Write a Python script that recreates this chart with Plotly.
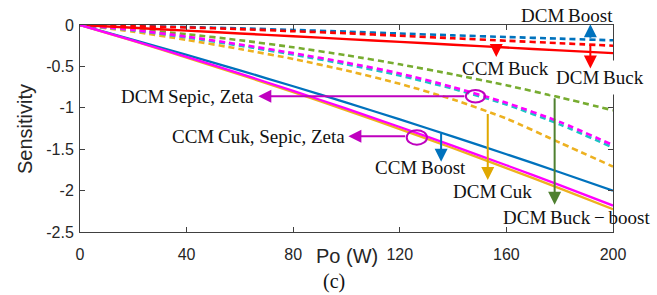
import plotly.graph_objects as go

# ---------------- data ----------------
po_w = [0, 20, 40, 60, 80, 100, 120, 140, 160, 180, 200]

dcm_boost      = [0, -0.010, -0.025, -0.040, -0.060, -0.080, -0.103, -0.125, -0.145, -0.165, -0.185]
dcm_buck       = [0, -0.015, -0.030, -0.050, -0.075, -0.100, -0.130, -0.160, -0.190, -0.220, -0.250]
dcm_buckboost  = [0, -0.049, -0.111, -0.184, -0.269, -0.366, -0.475, -0.596, -0.728, -0.874, -1.030]
dcm_cuk        = [0, -0.080, -0.180, -0.290, -0.410, -0.550, -0.710, -0.900, -1.130, -1.420, -1.710]
dcm_zeta       = [0, -0.065, -0.150, -0.250, -0.357, -0.475, -0.610, -0.770, -0.960, -1.200, -1.480]
dcm_sepic      = [0, -0.060, -0.140, -0.235, -0.340, -0.455, -0.585, -0.750, -0.940, -1.170, -1.450]
ccm_buck       = [0, -0.034, -0.068, -0.102, -0.136, -0.170, -0.204, -0.238, -0.272, -0.306, -0.340]
ccm_boost      = [0, -0.178, -0.360, -0.548, -0.740, -0.938, -1.140, -1.348, -1.561, -1.778, -2.000]
ccm_cuk        = [0, -0.193, -0.393, -0.599, -0.812, -1.031, -1.257, -1.489, -1.728, -1.973, -2.225]
ccm_sepic_zeta = [0, -0.189, -0.385, -0.587, -0.796, -1.011, -1.232, -1.460, -1.694, -1.934, -2.181]

x_ticks = [0, 40, 80, 120, 160, 200]
x_tick_labels = ["0", "40", "80", "120", "160", "200"]
y_ticks = [0, -0.5, -1, -1.5, -2, -2.5]
y_tick_labels = ["0", "-0.5", "-1", "-1.5", "-2", "-2.5"]

# ---------------- styles ----------------
BLUE = "#0072BD"
RED = "#FF0000"
GREEN = "#77AC30"
ORANGE = "#EDB120"
CYAN = "#1CC4C4"
MAGENTA = "#FF00FF"
PURPLE = "#BF00BF"
DKGREEN = "#4F8030"
DKORANGE = "#E0A800"
DASH = "6px,4px"
SERIF = "Liberation Serif, Times New Roman, serif"
SANS = "Liberation Sans, Arial, sans-serif"
TS = "\u2009"  # thin space

fig = go.Figure()

def add_line(y, color, dashed, width=2.3):
    fig.add_trace(go.Scatter(
        x=po_w, y=y, mode="lines", showlegend=False, hoverinfo="skip",
        line=dict(color=color, width=width, dash=DASH if dashed else "solid",
                  shape="spline", smoothing=0.6)))

add_line(dcm_boost, BLUE, True, 2.6)
add_line(dcm_buck, RED, True, 2.6)
add_line(dcm_buckboost, GREEN, True, 2.6)
add_line(dcm_cuk, ORANGE, True, 2.6)
add_line(dcm_zeta, CYAN, True, 2.6)
add_line(dcm_sepic, MAGENTA, True, 2.6)
add_line(ccm_buck, RED, False, 2.4)
add_line(ccm_boost, BLUE, False)
add_line(ccm_cuk, ORANGE, False)
add_line(ccm_sepic_zeta, MAGENTA, False)

# ---------------- annotations ----------------
def arrow(x, y, ax, ay, color):
    fig.add_annotation(x=x, y=y, ax=ax, ay=ay, xref="x", yref="y", axref="x", ayref="y",
                       text="", showarrow=True, arrowhead=2, arrowsize=1.3, arrowwidth=2,
                       arrowcolor=color)

def label(x, y, text, bg=None):
    kw = {}
    if bg:
        kw = dict(bgcolor=bg, borderpad=6)
    fig.add_annotation(x=x, y=y, xref="x", yref="y", text=text, showarrow=False,
                       font=dict(family=SERIF, size=19, color="#111111"),
                       xanchor="center", yanchor="middle", **kw)

# label with white box first so arrows are drawn over it
label(195.0, -0.635, "DCM" + TS + "Buck", bg="white")

# DCM Boost / DCM Buck / CCM Buck
arrow(191.5, 0.01, 191.5, -0.172, BLUE)
arrow(191.5, -0.525, 191.5, -0.217, RED)
arrow(156.2, -0.386, 156.2, -0.265, RED)
# CCM Boost, DCM Cuk, DCM Buck-boost
arrow(135.5, -1.651, 135.5, -1.289, BLUE)
arrow(153.0, -1.871, 153.0, -1.058, DKORANGE)
arrow(178.1, -2.172, 178.1, -0.867, DKGREEN)
# magenta pointers
arrow(66.9, -0.862, 144.8, -0.862, PURPLE)
arrow(100.7, -1.345, 122.6, -1.345, PURPLE)

fig.add_shape(type="circle", xref="x", yref="y", x0=144.8, x1=152.0, y0=-0.935, y1=-0.785,
              line=dict(color=PURPLE, width=2))
fig.add_shape(type="circle", xref="x", yref="y", x0=122.6, x1=130.2, y0=-1.445, y1=-1.27,
              line=dict(color=PURPLE, width=2))

label(159.6, -0.53, "CCM" + TS + "Buck")
label(40.4, -0.862, "DCM" + TS + "Sepic, Zeta")
label(66.9, -1.345, "CCM" + TS + "Cuk, Sepic, Zeta")
label(127.7, -1.725, "CCM" + TS + "Boost")
label(154.9, -2.005, "DCM" + TS + "Cuk")
label(186.2, -2.325, "DCM" + TS + "Buck" + TS + "\u2212" + TS + "boost")

# text outside the axes (paper coordinates)
def paper_text(x, y, text, font, angle=0):
    fig.add_annotation(x=x, y=y, xref="paper", yref="paper", text=text, showarrow=False,
                       xanchor="center", yanchor="middle", textangle=angle, font=font)

paper_text(0.9128, 1.048, "DCM" + TS + "Boost", dict(family=SERIF, size=19, color="#111111"))
paper_text(0.501, -0.116, "Po (W)", dict(family=SANS, size=20, color="#262626"))
paper_text(0.4765, -0.240, "(c)", dict(family=SERIF, size=20, color="#111111"))
paper_text(-0.1032, 0.4976, "Sensitivity", dict(family=SANS, size=20, color="#262626"), -90)

axis_common = dict(showgrid=False, zeroline=False, showline=True, linecolor="#404040",
                   linewidth=1, mirror="ticks", ticks="inside", ticklen=5, tickwidth=1,
                   tickcolor="#404040", tickfont=dict(family=SANS, size=16, color="#262626"))

fig.update_layout(
    width=657, height=295,
    margin=dict(l=80, r=44, t=25, b=63),
    paper_bgcolor="white", plot_bgcolor="white",
    showlegend=False,
    xaxis=dict(range=[0, 200], tickvals=x_ticks, ticktext=x_tick_labels,
               ticklabelstandoff=8, **axis_common),
    yaxis=dict(range=[-2.5, 0], tickvals=y_ticks, ticktext=y_tick_labels,
               ticklabelstandoff=2, **axis_common),
)

fig.write_html("out.html", config={"displayModeBar": False},
               post_script="document.body.style.margin='0';document.body.style.overflow='hidden';")
